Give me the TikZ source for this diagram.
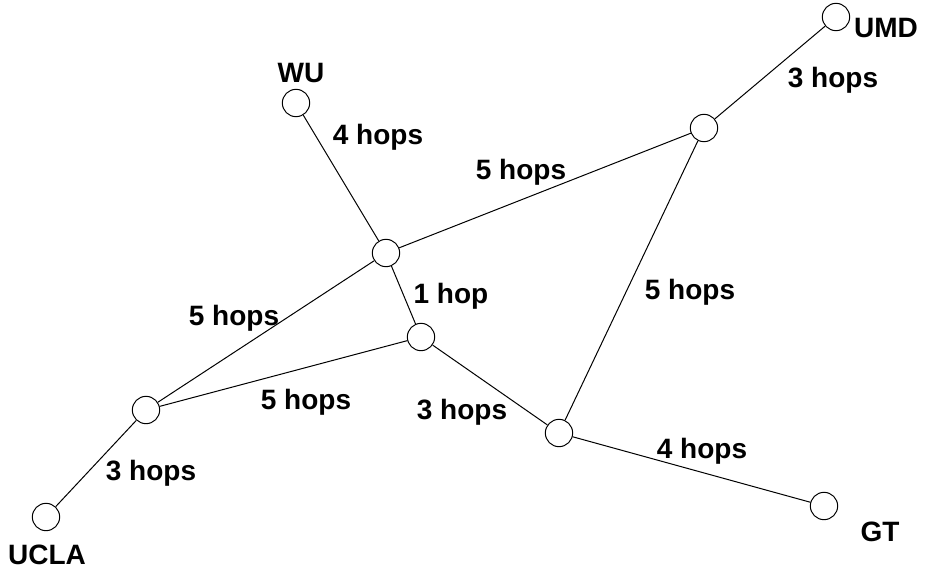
\documentclass[tikz,border=0pt]{standalone}
\usepackage{fontspec}
\setmainfont{Liberation Sans}

\begin{document}
\begin{tikzpicture}[x=0.75pt, y=-0.75pt, line width=0.75pt]
  % \draw[help lines] (0,0) grid (926,569);

  \tikzset{site node/.style={circle,draw,inner sep=0pt,minimum size=20.5pt}}
  \tikzset{hop label/.style={draw=none,font=\fontsize{21}{25}\selectfont\bfseries}}

  \useasboundingbox (0,0) rectangle (926,569);

  \path
    (836, 17)  node[site node](umd) {}
    (296, 103) node[site node](wu) {}
    (704, 128) node[site node](a) {}
    (386, 253) node[site node](b) {}
    (421, 337) node[site node](c) {}
    (146, 410) node[site node](d) {}
    (559, 433) node[site node](e) {}
    (824, 506) node[site node](gt) {}
    (46, 517)  node[site node](ucla) {}
  ;

  \path
    (886, 28)  node[hop label](umd label) {UMD}
    (301, 73)  node[hop label](wu label) {WU}
    (880, 532) node[hop label](gt label) {GT}
    (47, 555)  node[hop label](ucla label) {UCLA}
  ;

  \draw (umd) -- (a)  node[hop label] at (833, 80)  {3 hops};
  \draw (wu) -- (b)   node[hop label] at (378, 137) {4 hops};
  \draw (b) -- (a)    node[hop label] at (521, 172) {5 hops};
  \draw (a) -- (e)    node[hop label] at (690, 292) {5 hops};
  \draw (b) -- (c)    node[hop label] at (451, 296) {1 hop};
  \draw (b) -- (d)    node[hop label] at (234, 318) {5 hops};
  \draw (d) -- (c)    node[hop label] at (306, 402) {5 hops};
  \draw (c) -- (e)    node[hop label] at (462, 412) {3 hops};
  \draw (e) -- (gt)   node[hop label] at (702, 451) {4 hops};
  \draw (d) -- (ucla) node[hop label] at (151, 473) {3 hops};

\end{tikzpicture}
\end{document}
